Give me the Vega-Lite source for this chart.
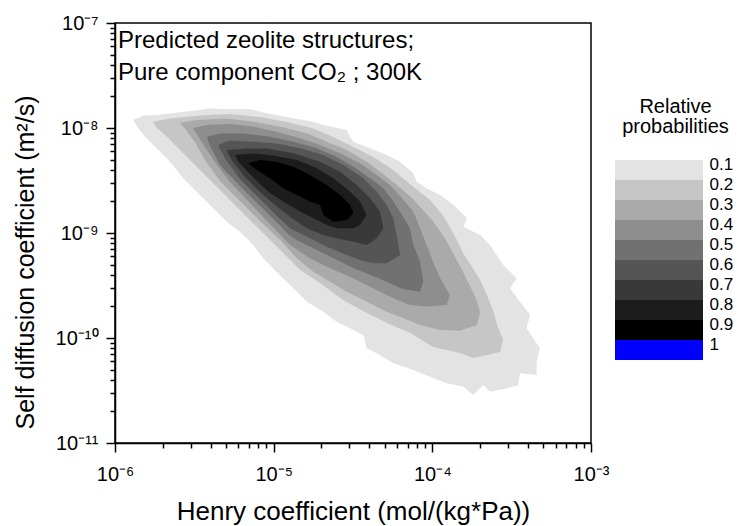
{
  "$schema": "https://vega.github.io/schema/vega-lite/v6.json",
  "autosize": "none",
  "width": 476,
  "height": 420,
  "padding": {"left": 115, "top": 23, "right": 148, "bottom": 83},
  "background": "white",
  "config": {
    "font": "Liberation Sans",
    "view": {"stroke": "black", "strokeWidth": 1.5},
    "axis": {"domainColor": "black", "tickColor": "black", "labelColor": "black", "titleColor": "black", "domainWidth": 1.5, "tickWidth": 1.5, "grid": false, "labelFontSize": 20, "titleFontSize": 25, "titleFontWeight": "normal", "labelFont": "Liberation Sans", "titleFont": "Liberation Sans"}
  },
  "resolve": {"scale": {"x": "independent", "y": "independent"}},
  "layer": [
    {
      "layer": [
        {
          "data": {"values": [
            {"level":0.1,"i":1,"H":1.30e-6,"D":1.19e-8},{"level":0.1,"i":2,"H":1.51e-6,"D":1.31e-8},{"level":0.1,"i":3,"H":1.83e-6,"D":1.33e-8},{"level":0.1,"i":4,"H":3.43e-6,"D":1.48e-8},{"level":0.1,"i":5,"H":4.07e-6,"D":1.54e-8},{"level":0.1,"i":6,"H":4.59e-6,"D":1.52e-8},{"level":0.1,"i":7,"H":7.09e-6,"D":1.52e-8},{"level":0.1,"i":8,"H":9.04e-6,"D":1.38e-8},{"level":0.1,"i":9,"H":1.33e-5,"D":1.24e-8},{"level":0.1,"i":10,"H":1.78e-5,"D":1.15e-8},{"level":0.1,"i":11,"H":2.06e-5,"D":1.07e-8},{"level":0.1,"i":12,"H":2.89e-5,"D":9.57e-9},{"level":0.1,"i":13,"H":3.03e-5,"D":8.26e-9},{"level":0.1,"i":14,"H":3.18e-5,"D":7.40e-9},{"level":0.1,"i":15,"H":4.05e-5,"D":6.41e-9},{"level":0.1,"i":16,"H":5.16e-5,"D":5.53e-9},{"level":0.1,"i":17,"H":6.26e-5,"D":4.78e-9},{"level":0.1,"i":18,"H":7.59e-5,"D":3.70e-9},{"level":0.1,"i":19,"H":7.97e-5,"D":3.08e-9},{"level":0.1,"i":20,"H":9.21e-5,"D":2.67e-9},{"level":0.1,"i":21,"H":1.12e-4,"D":2.30e-9},{"level":0.1,"i":22,"H":1.36e-4,"D":1.85e-9},{"level":0.1,"i":23,"H":1.65e-4,"D":1.38e-9},{"level":0.1,"i":24,"H":1.57e-4,"D":1.15e-9},{"level":0.1,"i":25,"H":2.00e-4,"D":9.57e-10},{"level":0.1,"i":26,"H":2.31e-4,"D":7.69e-10},{"level":0.1,"i":27,"H":2.54e-4,"D":6.17e-10},{"level":0.1,"i":28,"H":2.80e-4,"D":4.96e-10},{"level":0.1,"i":29,"H":3.40e-4,"D":3.70e-10},{"level":0.1,"i":30,"H":3.09e-4,"D":2.97e-10},{"level":0.1,"i":31,"H":3.57e-4,"D":2.22e-10},{"level":0.1,"i":32,"H":4.13e-4,"D":1.66e-10},{"level":0.1,"i":33,"H":3.93e-4,"D":1.24e-10},{"level":0.1,"i":34,"H":4.76e-4,"D":7.98e-11},{"level":0.1,"i":35,"H":4.54e-4,"D":5.95e-11},{"level":0.1,"i":36,"H":4.54e-4,"D":4.44e-11},{"level":0.1,"i":37,"H":3.57e-4,"D":4.61e-11},{"level":0.1,"i":38,"H":3.48e-4,"D":3.57e-11},{"level":0.1,"i":39,"H":2.94e-4,"D":3.32e-11},{"level":0.1,"i":40,"H":2.31e-4,"D":3.08e-11},{"level":0.1,"i":41,"H":2.10e-4,"D":3.57e-11},{"level":0.1,"i":42,"H":1.81e-4,"D":2.87e-11},{"level":0.1,"i":43,"H":1.57e-4,"D":3.44e-11},{"level":0.1,"i":44,"H":1.23e-4,"D":3.70e-11},{"level":0.1,"i":45,"H":9.67e-5,"D":4.28e-11},{"level":0.1,"i":46,"H":7.59e-5,"D":4.96e-11},{"level":0.1,"i":47,"H":5.67e-5,"D":5.74e-11},{"level":0.1,"i":48,"H":4.68e-5,"D":6.89e-11},{"level":0.1,"i":49,"H":3.85e-5,"D":7.98e-11},{"level":0.1,"i":50,"H":3.67e-5,"D":1.07e-10},{"level":0.1,"i":51,"H":3.03e-5,"D":1.24e-10},{"level":0.1,"i":52,"H":2.49e-5,"D":1.43e-10},{"level":0.1,"i":53,"H":2.06e-5,"D":1.78e-10},{"level":0.1,"i":54,"H":1.62e-5,"D":2.22e-10},{"level":0.1,"i":55,"H":1.33e-5,"D":2.97e-10},{"level":0.1,"i":56,"H":1.04e-5,"D":4.28e-10},{"level":0.1,"i":57,"H":8.60e-6,"D":5.74e-10},{"level":0.1,"i":58,"H":7.44e-6,"D":7.69e-10},{"level":0.1,"i":59,"H":6.13e-6,"D":1.03e-9},{"level":0.1,"i":60,"H":5.06e-6,"D":1.28e-9},{"level":0.1,"i":61,"H":4.16e-6,"D":1.72e-9},{"level":0.1,"i":62,"H":3.43e-6,"D":2.30e-9},{"level":0.1,"i":63,"H":2.69e-6,"D":3.32e-9},{"level":0.1,"i":64,"H":2.22e-6,"D":4.78e-9},{"level":0.1,"i":65,"H":1.83e-6,"D":6.41e-9},{"level":0.1,"i":66,"H":1.58e-6,"D":7.98e-9},{"level":0.1,"i":67,"H":1.40e-6,"D":9.93e-9},

            {"level":0.2,"i":1,"H":1.74e-6,"D":1.15e-8},{"level":0.2,"i":2,"H":2.22e-6,"D":1.23e-8},{"level":0.2,"i":3,"H":3.60e-6,"D":1.32e-8},{"level":0.2,"i":4,"H":5.30e-6,"D":1.36e-8},{"level":0.2,"i":5,"H":8.20e-6,"D":1.27e-8},{"level":0.2,"i":6,"H":1.21e-5,"D":1.14e-8},{"level":0.2,"i":7,"H":1.78e-5,"D":9.89e-9},{"level":0.2,"i":8,"H":2.38e-5,"D":8.21e-9},{"level":0.2,"i":9,"H":3.18e-5,"D":6.59e-9},{"level":0.2,"i":10,"H":4.25e-5,"D":5.29e-9},{"level":0.2,"i":11,"H":5.67e-5,"D":3.98e-9},{"level":0.2,"i":12,"H":7.22e-5,"D":2.93e-9},{"level":0.2,"i":13,"H":9.67e-5,"D":2.06e-9},{"level":0.2,"i":14,"H":1.15e-4,"D":1.52e-9},{"level":0.2,"i":15,"H":1.29e-4,"D":1.14e-9},{"level":0.2,"i":16,"H":1.43e-4,"D":8.58e-10},{"level":0.2,"i":17,"H":1.56e-4,"D":6.45e-10},{"level":0.2,"i":18,"H":1.78e-4,"D":4.75e-10},{"level":0.2,"i":19,"H":2.00e-4,"D":3.57e-10},{"level":0.2,"i":20,"H":2.21e-4,"D":2.57e-10},{"level":0.2,"i":21,"H":2.41e-4,"D":1.85e-10},{"level":0.2,"i":22,"H":2.56e-4,"D":1.33e-10},{"level":0.2,"i":23,"H":2.79e-4,"D":9.57e-11},{"level":0.2,"i":24,"H":2.67e-4,"D":7.36e-11},{"level":0.2,"i":25,"H":2.21e-4,"D":6.89e-11},{"level":0.2,"i":26,"H":1.80e-4,"D":6.45e-11},{"level":0.2,"i":27,"H":1.49e-4,"D":7.20e-11},{"level":0.2,"i":28,"H":1.01e-4,"D":8.21e-11},{"level":0.2,"i":29,"H":7.22e-5,"D":1.12e-10},{"level":0.2,"i":30,"H":5.18e-5,"D":1.39e-10},{"level":0.2,"i":31,"H":3.87e-5,"D":1.73e-10},{"level":0.2,"i":32,"H":2.73e-5,"D":2.30e-10},{"level":0.2,"i":33,"H":1.96e-5,"D":3.34e-10},{"level":0.2,"i":34,"H":1.47e-5,"D":4.44e-10},{"level":0.2,"i":35,"H":1.10e-5,"D":6.89e-10},{"level":0.2,"i":36,"H":8.20e-6,"D":1.07e-9},{"level":0.2,"i":37,"H":6.13e-6,"D":1.66e-9},{"level":0.2,"i":38,"H":4.59e-6,"D":2.57e-9},{"level":0.2,"i":39,"H":3.43e-6,"D":3.98e-9},{"level":0.2,"i":40,"H":2.57e-6,"D":6.17e-9},{"level":0.2,"i":41,"H":2.07e-6,"D":8.58e-9},{"level":0.2,"i":42,"H":1.81e-6,"D":1.02e-8},

            {"level":0.3,"i":1,"H":2.57e-6,"D":1.12e-8},{"level":0.3,"i":2,"H":3.27e-6,"D":1.19e-8},{"level":0.3,"i":3,"H":5.06e-6,"D":1.23e-8},{"level":0.3,"i":4,"H":7.44e-6,"D":1.15e-8},{"level":0.3,"i":5,"H":1.10e-5,"D":1.03e-8},{"level":0.3,"i":6,"H":1.62e-5,"D":8.90e-9},{"level":0.3,"i":7,"H":2.16e-5,"D":7.40e-9},{"level":0.3,"i":8,"H":2.89e-5,"D":6.17e-9},{"level":0.3,"i":9,"H":3.85e-5,"D":4.78e-9},{"level":0.3,"i":10,"H":4.91e-5,"D":3.65e-9},{"level":0.3,"i":11,"H":6.08e-5,"D":2.80e-9},{"level":0.3,"i":12,"H":7.44e-5,"D":2.15e-9},{"level":0.3,"i":13,"H":8.61e-5,"D":1.69e-9},{"level":0.3,"i":14,"H":9.95e-5,"D":1.33e-9},{"level":0.3,"i":15,"H":1.13e-4,"D":1.02e-9},{"level":0.3,"i":16,"H":1.26e-4,"D":7.86e-10},{"level":0.3,"i":17,"H":1.39e-4,"D":5.91e-10},{"level":0.3,"i":18,"H":1.54e-4,"D":4.44e-10},{"level":0.3,"i":19,"H":1.70e-4,"D":3.27e-10},{"level":0.3,"i":20,"H":1.88e-4,"D":2.40e-10},{"level":0.3,"i":21,"H":2.00e-4,"D":1.77e-10},{"level":0.3,"i":22,"H":1.91e-4,"D":1.33e-10},{"level":0.3,"i":23,"H":1.49e-4,"D":1.17e-10},{"level":0.3,"i":24,"H":1.12e-4,"D":1.19e-10},{"level":0.3,"i":25,"H":8.36e-5,"D":1.33e-10},{"level":0.3,"i":26,"H":6.56e-5,"D":1.54e-10},{"level":0.3,"i":27,"H":5.16e-5,"D":1.78e-10},{"level":0.3,"i":28,"H":4.25e-5,"D":2.06e-10},{"level":0.3,"i":29,"H":3.50e-5,"D":2.39e-10},{"level":0.3,"i":30,"H":2.89e-5,"D":2.76e-10},{"level":0.3,"i":31,"H":2.26e-5,"D":3.44e-10},{"level":0.3,"i":32,"H":1.78e-5,"D":4.28e-10},{"level":0.3,"i":33,"H":1.40e-5,"D":5.74e-10},{"level":0.3,"i":34,"H":1.10e-5,"D":8.58e-10},{"level":0.3,"i":35,"H":8.20e-6,"D":1.30e-9},{"level":0.3,"i":36,"H":6.13e-6,"D":2.02e-9},{"level":0.3,"i":37,"H":4.59e-6,"D":3.13e-9},{"level":0.3,"i":38,"H":3.69e-6,"D":4.96e-9},{"level":0.3,"i":39,"H":3.19e-6,"D":7.36e-9},{"level":0.3,"i":40,"H":2.80e-6,"D":9.57e-9},

            {"level":0.4,"i":1,"H":3.10e-6,"D":1.00e-8},{"level":0.4,"i":2,"H":3.78e-6,"D":1.07e-8},{"level":0.4,"i":3,"H":5.30e-6,"D":1.10e-8},{"level":0.4,"i":4,"H":7.44e-6,"D":1.03e-8},{"level":0.4,"i":5,"H":1.04e-5,"D":9.22e-9},{"level":0.4,"i":6,"H":1.47e-5,"D":7.98e-9},{"level":0.4,"i":7,"H":1.96e-5,"D":6.89e-9},{"level":0.4,"i":8,"H":2.62e-5,"D":5.74e-9},{"level":0.4,"i":9,"H":3.50e-5,"D":4.61e-9},{"level":0.4,"i":10,"H":4.46e-5,"D":3.57e-9},{"level":0.4,"i":11,"H":5.41e-5,"D":2.87e-9},{"level":0.4,"i":12,"H":6.35e-5,"D":2.20e-9},{"level":0.4,"i":13,"H":7.59e-5,"D":1.60e-9},{"level":0.4,"i":14,"H":8.36e-5,"D":1.11e-9},{"level":0.4,"i":15,"H":9.21e-5,"D":7.69e-10},{"level":0.4,"i":16,"H":1.01e-4,"D":5.33e-10},{"level":0.4,"i":17,"H":1.12e-4,"D":3.70e-10},{"level":0.4,"i":18,"H":1.29e-4,"D":2.57e-10},{"level":0.4,"i":19,"H":1.23e-4,"D":2.06e-10},{"level":0.4,"i":20,"H":9.21e-5,"D":1.99e-10},{"level":0.4,"i":21,"H":7.22e-5,"D":2.06e-10},{"level":0.4,"i":22,"H":5.67e-5,"D":2.39e-10},{"level":0.4,"i":23,"H":4.68e-5,"D":2.76e-10},{"level":0.4,"i":24,"H":3.85e-5,"D":3.20e-10},{"level":0.4,"i":25,"H":3.03e-5,"D":3.84e-10},{"level":0.4,"i":26,"H":2.26e-5,"D":4.61e-10},{"level":0.4,"i":27,"H":1.69e-5,"D":5.74e-10},{"level":0.4,"i":28,"H":1.27e-5,"D":7.69e-10},{"level":0.4,"i":29,"H":9.48e-6,"D":1.22e-9},{"level":0.4,"i":30,"H":7.09e-6,"D":1.93e-9},{"level":0.4,"i":31,"H":5.30e-6,"D":3.06e-9},{"level":0.4,"i":32,"H":4.09e-6,"D":5.18e-9},{"level":0.4,"i":33,"H":3.53e-6,"D":7.36e-9},{"level":0.4,"i":34,"H":3.24e-6,"D":8.96e-9},

            {"level":0.5,"i":1,"H":3.80e-6,"D":8.21e-9},{"level":0.5,"i":2,"H":4.59e-6,"D":8.86e-9},{"level":0.5,"i":3,"H":6.44e-6,"D":8.86e-9},{"level":0.5,"i":4,"H":9.48e-6,"D":8.26e-9},{"level":0.5,"i":5,"H":1.33e-5,"D":7.40e-9},{"level":0.5,"i":6,"H":1.87e-5,"D":6.41e-9},{"level":0.5,"i":7,"H":2.49e-5,"D":5.33e-9},{"level":0.5,"i":8,"H":3.18e-5,"D":4.28e-9},{"level":0.5,"i":9,"H":4.05e-5,"D":3.32e-9},{"level":0.5,"i":10,"H":4.91e-5,"D":2.67e-9},{"level":0.5,"i":11,"H":5.67e-5,"D":1.99e-9},{"level":0.5,"i":12,"H":6.44e-5,"D":1.48e-9},{"level":0.5,"i":13,"H":7.22e-5,"D":1.11e-9},{"level":0.5,"i":14,"H":7.59e-5,"D":7.69e-10},{"level":0.5,"i":15,"H":8.36e-5,"D":5.33e-10},{"level":0.5,"i":16,"H":8.77e-5,"D":3.44e-10},{"level":0.5,"i":17,"H":8.36e-5,"D":2.76e-10},{"level":0.5,"i":18,"H":6.53e-5,"D":2.93e-10},{"level":0.5,"i":19,"H":5.18e-5,"D":3.41e-10},{"level":0.5,"i":20,"H":4.23e-5,"D":3.90e-10},{"level":0.5,"i":21,"H":3.16e-5,"D":4.64e-10},{"level":0.5,"i":22,"H":2.44e-5,"D":5.65e-10},{"level":0.5,"i":23,"H":1.82e-5,"D":7.04e-10},{"level":0.5,"i":24,"H":1.47e-5,"D":8.21e-10},{"level":0.5,"i":25,"H":1.27e-5,"D":9.36e-10},{"level":0.5,"i":26,"H":1.10e-5,"D":1.17e-9},{"level":0.5,"i":27,"H":8.20e-6,"D":1.81e-9},{"level":0.5,"i":28,"H":6.13e-6,"D":2.80e-9},{"level":0.5,"i":29,"H":4.59e-6,"D":4.44e-9},{"level":0.5,"i":30,"H":4.09e-6,"D":6.17e-9},{"level":0.5,"i":31,"H":3.86e-6,"D":7.52e-9},

            {"level":0.6,"i":1,"H":4.46e-6,"D":6.89e-9},{"level":0.6,"i":2,"H":5.30e-6,"D":7.60e-9},{"level":0.6,"i":3,"H":7.44e-6,"D":7.40e-9},{"level":0.6,"i":4,"H":1.04e-5,"D":7.12e-9},{"level":0.6,"i":5,"H":1.47e-5,"D":6.41e-9},{"level":0.6,"i":6,"H":2.06e-5,"D":5.53e-9},{"level":0.6,"i":7,"H":2.75e-5,"D":4.44e-9},{"level":0.6,"i":8,"H":3.67e-5,"D":3.32e-9},{"level":0.6,"i":9,"H":4.46e-5,"D":2.47e-9},{"level":0.6,"i":10,"H":5.16e-5,"D":1.85e-9},{"level":0.6,"i":11,"H":5.67e-5,"D":1.38e-9},{"level":0.6,"i":12,"H":5.96e-5,"D":9.57e-10},{"level":0.6,"i":13,"H":6.26e-5,"D":6.17e-10},{"level":0.6,"i":14,"H":5.16e-5,"D":5.15e-10},{"level":0.6,"i":15,"H":4.25e-5,"D":5.15e-10},{"level":0.6,"i":16,"H":3.50e-5,"D":5.53e-10},{"level":0.6,"i":17,"H":2.89e-5,"D":6.17e-10},{"level":0.6,"i":18,"H":2.16e-5,"D":7.40e-10},{"level":0.6,"i":19,"H":1.69e-5,"D":8.90e-10},{"level":0.6,"i":20,"H":1.27e-5,"D":1.11e-9},{"level":0.6,"i":21,"H":1.02e-5,"D":1.52e-9},{"level":0.6,"i":22,"H":8.20e-6,"D":2.11e-9},{"level":0.6,"i":23,"H":6.13e-6,"D":3.27e-9},{"level":0.6,"i":24,"H":5.01e-6,"D":4.96e-9},{"level":0.6,"i":25,"H":4.66e-6,"D":6.04e-9},

            {"level":0.7,"i":1,"H":5.06e-6,"D":6.17e-9},{"level":0.7,"i":2,"H":6.76e-6,"D":6.38e-9},{"level":0.7,"i":3,"H":9.04e-6,"D":6.38e-9},{"level":0.7,"i":4,"H":1.33e-5,"D":5.74e-9},{"level":0.7,"i":5,"H":1.96e-5,"D":4.78e-9},{"level":0.7,"i":6,"H":2.62e-5,"D":3.84e-9},{"level":0.7,"i":7,"H":3.34e-5,"D":2.87e-9},{"level":0.7,"i":8,"H":4.05e-5,"D":2.14e-9},{"level":0.7,"i":9,"H":4.68e-5,"D":1.60e-9},{"level":0.7,"i":10,"H":4.91e-5,"D":1.11e-9},{"level":0.7,"i":11,"H":4.46e-5,"D":8.90e-10},{"level":0.7,"i":12,"H":3.85e-5,"D":7.69e-10},{"level":0.7,"i":13,"H":3.18e-5,"D":8.26e-10},{"level":0.7,"i":14,"H":2.49e-5,"D":8.90e-10},{"level":0.7,"i":15,"H":2.06e-5,"D":9.57e-10},{"level":0.7,"i":16,"H":1.62e-5,"D":1.11e-9},{"level":0.7,"i":17,"H":1.27e-5,"D":1.42e-9},{"level":0.7,"i":18,"H":1.02e-5,"D":1.85e-9},{"level":0.7,"i":19,"H":8.20e-6,"D":2.46e-9},{"level":0.7,"i":20,"H":6.60e-6,"D":3.41e-9},{"level":0.7,"i":21,"H":5.54e-6,"D":4.75e-9},{"level":0.7,"i":22,"H":5.23e-6,"D":5.53e-9},

            {"level":0.8,"i":1,"H":5.71e-6,"D":5.53e-9},{"level":0.8,"i":2,"H":7.44e-6,"D":5.72e-9},{"level":0.8,"i":3,"H":9.48e-6,"D":5.53e-9},{"level":0.8,"i":4,"H":1.40e-5,"D":4.96e-9},{"level":0.8,"i":5,"H":1.87e-5,"D":4.13e-9},{"level":0.8,"i":6,"H":2.38e-5,"D":3.32e-9},{"level":0.8,"i":7,"H":3.03e-5,"D":2.47e-9},{"level":0.8,"i":8,"H":3.50e-5,"D":1.99e-9},{"level":0.8,"i":9,"H":3.85e-5,"D":1.48e-9},{"level":0.8,"i":10,"H":3.50e-5,"D":1.19e-9},{"level":0.8,"i":11,"H":3.18e-5,"D":1.11e-9},{"level":0.8,"i":12,"H":2.49e-5,"D":1.11e-9},{"level":0.8,"i":13,"H":2.16e-5,"D":1.19e-9},{"level":0.8,"i":14,"H":1.78e-5,"D":1.38e-9},{"level":0.8,"i":15,"H":1.47e-5,"D":1.60e-9},{"level":0.8,"i":16,"H":1.15e-5,"D":1.99e-9},{"level":0.8,"i":17,"H":9.48e-6,"D":2.40e-9},{"level":0.8,"i":18,"H":8.20e-6,"D":2.93e-9},{"level":0.8,"i":19,"H":6.79e-6,"D":3.90e-9},{"level":0.8,"i":20,"H":5.96e-6,"D":4.85e-9},

            {"level":0.9,"i":1,"H":6.92e-6,"D":4.61e-9},{"level":0.9,"i":2,"H":8.20e-6,"D":4.96e-9},{"level":0.9,"i":3,"H":1.04e-5,"D":4.78e-9},{"level":0.9,"i":4,"H":1.33e-5,"D":4.28e-9},{"level":0.9,"i":5,"H":1.69e-5,"D":3.57e-9},{"level":0.9,"i":6,"H":2.16e-5,"D":2.87e-9},{"level":0.9,"i":7,"H":2.62e-5,"D":2.30e-9},{"level":0.9,"i":8,"H":3.03e-5,"D":1.85e-9},{"level":0.9,"i":9,"H":3.18e-5,"D":1.54e-9},{"level":0.9,"i":10,"H":2.89e-5,"D":1.33e-9},{"level":0.9,"i":11,"H":2.38e-5,"D":1.28e-9},{"level":0.9,"i":12,"H":2.06e-5,"D":1.48e-9},{"level":0.9,"i":13,"H":1.96e-5,"D":1.85e-9},{"level":0.9,"i":14,"H":1.69e-5,"D":1.99e-9},{"level":0.9,"i":15,"H":1.40e-5,"D":2.30e-9},{"level":0.9,"i":16,"H":1.15e-5,"D":2.67e-9},{"level":0.9,"i":17,"H":9.48e-6,"D":3.32e-9},{"level":0.9,"i":18,"H":7.82e-6,"D":3.98e-9}
          ]},
          "mark": {"type": "line", "filled": true, "interpolate": "linear"},
          "encoding": {
            "x": {"field": "H", "type": "quantitative",
              "scale": {"type": "log", "domain": [1e-6, 1e-3], "nice": false},
              "axis": {
                "title": "Henry coefficient (mol/(kg*Pa))",
                "titleFontSize": 26,
                "values": [1e-6,2e-6,3e-6,4e-6,5e-6,6e-6,7e-6,8e-6,9e-6,1e-5,2e-5,3e-5,4e-5,5e-5,6e-5,7e-5,8e-5,9e-5,1e-4,2e-4,3e-4,4e-4,5e-4,6e-4,7e-4,8e-4,9e-4,1e-3],
                "labelExpr": "abs(log(datum.value)/LN10 - round(log(datum.value)/LN10)) < 0.01 ? ['10⁻⁶','10⁻⁵','10⁻⁴','10⁻³'][round(log(datum.value)/LN10) + 6] : ''",
                "tickSize": {"condition": {"test": "abs(log(datum.value)/LN10 - round(log(datum.value)/LN10)) < 0.01", "value": 9}, "value": 5},
                "labelPadding": 12,
                "labelFlush": false,
                "labelOverlap": false,
                "titleX": 238,
                "titleY": 76,
                "titleBaseline": "alphabetic"
              }
            },
            "y": {"field": "D", "type": "quantitative",
              "scale": {"type": "log", "domain": [1e-11, 1e-7], "nice": false},
              "axis": {
                "title": "Self diffusion coefficient (m²/s)",
                "values": [1e-11,2e-11,3e-11,4e-11,5e-11,6e-11,7e-11,8e-11,9e-11,1e-10,2e-10,3e-10,4e-10,5e-10,6e-10,7e-10,8e-10,9e-10,1e-9,2e-9,3e-9,4e-9,5e-9,6e-9,7e-9,8e-9,9e-9,1e-8,2e-8,3e-8,4e-8,5e-8,6e-8,7e-8,8e-8,9e-8,1e-7],
                "labelExpr": "abs(log(datum.value)/LN10 - round(log(datum.value)/LN10)) < 0.01 ? ['10⁻⁷','10⁻⁸','10⁻⁹','10⁻¹⁰','10⁻¹¹'][-round(log(datum.value)/LN10) - 7] : ''",
                "tickSize": {"condition": {"test": "abs(log(datum.value)/LN10 - round(log(datum.value)/LN10)) < 0.01", "value": 9}, "value": 5},
                "labelPadding": 8,
                "labelFlush": false,
                "labelOverlap": false,
                "titleX": -82,
                "titleY": 239,
                "titleBaseline": "alphabetic"
              }
            },
            "color": {"field": "level", "type": "quantitative",
              "scale": {"type": "threshold", "domain": [0.1,0.2,0.3,0.4,0.5,0.6,0.7,0.8,0.9,1],
                "range": ["#ffffff","#e3e3e3","#c6c6c6","#aaaaaa","#8e8e8e","#717171","#555555","#393939","#1c1c1c","#000000","#0000ff"]},
              "legend": null
            },
            "order": {"field": "i", "type": "quantitative"}
          }
        },
        {
          "data": {"values": [
            {"t": "Predicted zeolite structures;", "H": 1.044e-6, "D": 6.74e-8},
            {"t": "Pure component CO₂ ; 300K", "H": 1.044e-6, "D": 3.34e-8}
          ]},
          "mark": {"type": "text", "align": "left", "baseline": "middle", "fontSize": 24, "color": "black"},
          "encoding": {
            "x": {"field": "H", "type": "quantitative"},
            "y": {"field": "D", "type": "quantitative"},
            "text": {"field": "t"}
          }
        }
      ]
    },
    {
      "data": {"values": [
        {"level": 0.1}, {"level": 0.2}, {"level": 0.3}, {"level": 0.4}, {"level": 0.5},
        {"level": 0.6}, {"level": 0.7}, {"level": 0.8}, {"level": 0.9}, {"level": 1}
      ]},
      "mark": {"type": "rect"},
      "encoding": {
        "x": {"datum": 0, "type": "quantitative",
          "scale": {"domain": [0, 1], "range": [500, 588]},
          "axis": {"orient": "top", "domain": false, "ticks": false, "labels": false, "grid": false,
            "title": ["Relative", "probabilities"], "titleX": 560, "titleY": 89, "titleBaseline": "alphabetic",
            "titleAlign": "center", "titleAngle": 0, "titleFontSize": 20, "titleLineHeight": 20}},
        "x2": {"datum": 1},
        "y": {"field": "level", "type": "ordinal",
          "scale": {"domain": [0.1,0.2,0.3,0.4,0.5,0.6,0.7,0.8,0.9,1], "range": [137, 337], "paddingInner": 0, "paddingOuter": 0},
          "axis": {"orient": "right", "offset": 112, "domain": false, "ticks": false, "labelPadding": 6,
            "labelBaseline": "alphabetic", "labelAlign": "left", "labelFontSize": 17, "title": null, "labelAngle": 0}},
        "fill": {"field": "level", "type": "quantitative",
          "scale": {"type": "threshold", "domain": [0.1,0.2,0.3,0.4,0.5,0.6,0.7,0.8,0.9,1],
            "range": ["#ffffff","#e3e3e3","#c6c6c6","#aaaaaa","#8e8e8e","#717171","#555555","#393939","#1c1c1c","#000000","#0000ff"]},
          "legend": null}
      }
    }
  ]
}
